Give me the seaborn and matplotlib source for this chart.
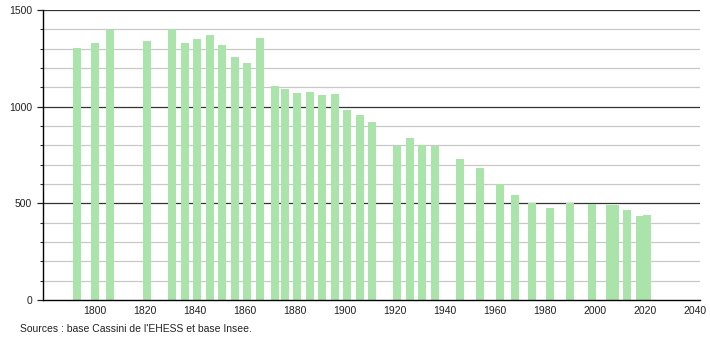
import matplotlib
matplotlib.use("Agg")
import matplotlib.pyplot as plt
import seaborn as sns
import pandas as pd
from matplotlib.ticker import MultipleLocator

years = [1793, 1800, 1806, 1821, 1831, 1836, 1841, 1846, 1851, 1856, 1861, 1866,
         1872, 1876, 1881, 1886, 1891, 1896, 1901, 1906, 1911, 1921, 1926, 1931,
         1936, 1946, 1954, 1962, 1968, 1975, 1982, 1990, 1999, 2006, 2008, 2013,
         2018, 2021]
population = [1306, 1329, 1394, 1341, 1401, 1331, 1351, 1372, 1320, 1258, 1227, 1357,
              1109, 1089, 1071, 1077, 1062, 1067, 984, 958, 922, 798, 840, 804,
              795, 731, 683, 602, 542, 500, 478, 502, 497, 492, 490, 464,
              433, 440]
x_ticks = [1800, 1820, 1840, 1860, 1880, 1900, 1920, 1940, 1960, 1980, 2000, 2020, 2040]
y_ticks = [0, 500, 1000, 1500]
source = "Sources : base Cassini de l'EHESS et base Insee."

sns.set_style("white")
plt.rcParams['font.family'] = ['Liberation Sans', 'DejaVu Sans']

df = pd.DataFrame({"year": years, "pop": population})

fig = plt.figure(figsize=(7.1, 3.4), dpi=100)
ax = fig.add_axes([43/710, 1 - 300/340, (700-43)/710, 290/340])

# grid lines
for v in range(100, 1500, 100):
    if v % 500 == 0:
        ax.axhline(v, color="#333333", lw=0.9, zorder=0)
    else:
        ax.axhline(v, color="#c8c8c8", lw=0.9, zorder=0)
ax.axhline(1500, color="#333333", lw=0.9, zorder=0)

sns.barplot(data=df, x="year", y="pop", native_scale=True, width=1.65,
            color="#abe4ab", saturation=1, edgecolor="none", ax=ax, zorder=2)

ax.set_xlim(1779.3, 2042.1)
ax.set_ylim(0, 1500)
ax.set_xticks(x_ticks)
ax.set_xticklabels([str(t) for t in x_ticks])
ax.set_yticks(y_ticks)
ax.set_yticklabels([str(t) for t in y_ticks])
ax.yaxis.set_minor_locator(MultipleLocator(100))
ax.tick_params(axis="x", length=0, labelsize=7.5, colors="#222222", pad=4)
ax.tick_params(axis="y", which="major", length=4, width=0.9, labelsize=7.5,
               colors="#222222", pad=4)
ax.tick_params(axis="y", which="minor", length=2, width=0.8, colors="#333333", left=True)
ax.tick_params(axis="y", which="both", left=True)
ax.set_xlabel("")
ax.set_ylabel("")
for s in ["top", "right"]:
    ax.spines[s].set_visible(False)
ax.spines["left"].set_color("#000000")
ax.spines["bottom"].set_color("#000000")
ax.spines["left"].set_linewidth(1.0)
ax.spines["bottom"].set_linewidth(1.0)

fig.text(20/710, 1 - 329/340, source, fontsize=7.5, color="#222222", va="center", ha="left")

fig.savefig("out.png", dpi=100)
